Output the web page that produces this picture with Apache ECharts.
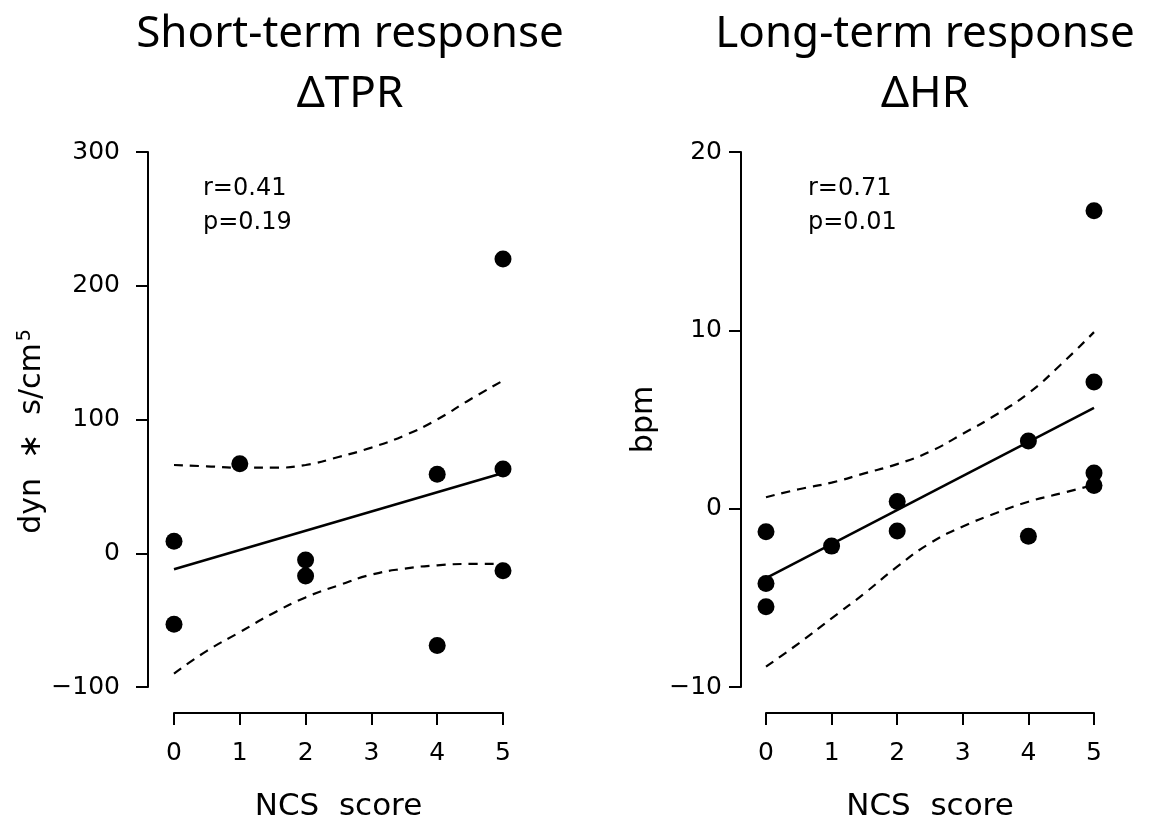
<!DOCTYPE html>
<html>
<head>
<meta charset="utf-8">
<script src="https://cdn.jsdelivr.net/npm/echarts@6/dist/echarts.min.js"></script>
<style>
  html, body { margin: 0; padding: 0; background: #fff; }
  #main { width: 1151px; height: 826px; }
</style>
</head>
<body>
<div id="main"></div>
<script>
// NCS score ticks
var ncsTicks = [0, 1, 2, 3, 4, 5];

// short-term: delta TPR
var tprNcs = [0, 0, 1, 2, 2, 4, 4, 5, 5, 5];
var tprVal = [9, -53, 67, -5, -17, 59, -69, 220, 63, -13];
var tprFit = [[0, -12], [5, 60]];

// long-term: delta HR
var hrNcs = [0, 0, 0, 1, 2, 2, 4, 4, 5, 5, 5, 5];
var hrVal = [-1.3, -4.2, -5.5, -2.1, 0.4, -1.25, 3.8, -1.55, 16.7, 7.1, 2.0, 1.3];
var hrFit = [[0, -3.9], [5, 5.65]];

// confidence band, read at these x positions
var bandX = [0, 0.5, 1, 1.5, 2, 2.5, 3, 3.5, 4, 4.5, 5];
var tprUpper = [66, 65, 64, 64, 66, 72, 79, 88, 100, 115, 129];
var tprLower = [-90, -73, -59, -45, -33, -24, -16, -11.5, -9, -8, -8];
var hrUpper = [0.64, 1.09, 1.46, 1.98, 2.5, 3.2, 4.2, 5.25, 6.47, 8.1, 9.9];
var hrLower = [-8.86, -7.55, -6.15, -4.75, -3.25, -1.94, -1.0, -0.26, 0.39, 0.86, 1.33];

function pairs(xs, ys) {
    return xs.map(function (x, i) { return [x, ys[i]]; });
}

var myChart = echarts.init(document.getElementById('main'));

var axisLine = { show: true, onZero: false, lineStyle: { color: '#000', width: 2 } };
var axisTick = { show: true, length: 12, lineStyle: { color: '#000', width: 2 } };
var tickFont = { color: '#000', fontFamily: 'DejaVu Sans', fontSize: 25,
    formatter: function (v) { return String(v).replace('-', '\u2212'); } };

function xAx(idx) {
    return {
        type: 'value', gridIndex: idx, min: 0, max: 5, interval: 1,
        offset: 26,
        name: 'NCS  score', nameLocation: 'middle', nameGap: 78,
        nameTextStyle: { color: '#000', fontFamily: 'DejaVu Sans', fontSize: 31 },
        axisLine: axisLine, axisTick: axisTick,
        axisLabel: Object.assign({ margin: 28 }, tickFont),
        splitLine: { show: false }
    };
}

function dashed(name, idx, data) {
    return {
        name: name, type: 'line', xAxisIndex: idx, yAxisIndex: idx,
        data: data, smooth: true, showSymbol: false, silent: true,
        lineStyle: { color: '#000', width: 2.2, type: [9, 7] }
    };
}

option = {
    backgroundColor: '#fff',
    animation: false,
    title: [
        { text: 'Short-term response\nΔTPR', left: 350, top: 4, textAlign: 'center', padding: 0,
          textStyle: { color: '#000', fontFamily: 'Noto Sans', fontWeight: 'normal', fontSize: 44, lineHeight: 60 } },
        { text: 'Long-term response\nΔHR', left: 925, top: 4, textAlign: 'center', padding: 0,
          textStyle: { color: '#000', fontFamily: 'Noto Sans', fontWeight: 'normal', fontSize: 44, lineHeight: 60 } }
    ],
    graphic: [
        { type: 'text', left: 203, top: 172, style: { text: 'r=0.41\np=0.19', fill: '#000', font: '24px "DejaVu Sans"', lineHeight: 34 } },
        { type: 'text', left: 808, top: 172, style: { text: 'r=0.71\np=0.01', fill: '#000', font: '24px "DejaVu Sans"', lineHeight: 34 } }
    ],
    grid: [
        { left: 174, top: 152, width: 329, height: 535, containLabel: false, outerBoundsMode: 'none' },
        { left: 766, top: 152, width: 328, height: 535, containLabel: false, outerBoundsMode: 'none' }
    ],
    xAxis: [xAx(0), xAx(1)],
    yAxis: [
        {
            type: 'value', gridIndex: 0, min: -100, max: 300, interval: 100,
            offset: 26,
            name: 'dyn  ∗  s/cm{sup|5}', nameLocation: 'middle', nameGap: 98, nameRotate: 90,
            nameTextStyle: { color: '#000', fontFamily: 'DejaVu Sans', fontSize: 30, padding: [0, 24, 0, 0],
                rich: { sup: { fontFamily: 'DejaVu Sans', fontSize: 19, color: '#000', verticalAlign: 'bottom', padding: [0, 0, 14, 2] } } },
            axisLine: axisLine, axisTick: axisTick,
            axisLabel: Object.assign({ margin: 28 }, tickFont),
            splitLine: { show: false }
        },
        {
            type: 'value', gridIndex: 1, min: -10, max: 20, interval: 10,
            offset: 25,
            name: 'bpm', nameLocation: 'middle', nameGap: 82, nameRotate: 90,
            nameTextStyle: { color: '#000', fontFamily: 'DejaVu Sans', fontSize: 30 },
            axisLine: axisLine, axisTick: axisTick,
            axisLabel: Object.assign({ margin: 19 }, tickFont),
            splitLine: { show: false }
        }
    ],
    series: [
        { name: 'ΔTPR', type: 'scatter', xAxisIndex: 0, yAxisIndex: 0, symbolSize: 17,
          itemStyle: { color: '#000', opacity: 1 }, data: pairs(tprNcs, tprVal), z: 5 },
        { name: 'fit TPR', type: 'line', xAxisIndex: 0, yAxisIndex: 0, data: tprFit, showSymbol: false,
          lineStyle: { color: '#000', width: 2.5 } },
        dashed('upper TPR', 0, pairs(bandX, tprUpper)),
        dashed('lower TPR', 0, pairs(bandX, tprLower)),

        { name: 'ΔHR', type: 'scatter', xAxisIndex: 1, yAxisIndex: 1, symbolSize: 17,
          itemStyle: { color: '#000', opacity: 1 }, data: pairs(hrNcs, hrVal), z: 5 },
        { name: 'fit HR', type: 'line', xAxisIndex: 1, yAxisIndex: 1, data: hrFit, showSymbol: false,
          lineStyle: { color: '#000', width: 2.5 } },
        dashed('upper HR', 1, pairs(bandX, hrUpper)),
        dashed('lower HR', 1, pairs(bandX, hrLower))
    ]
};

myChart.setOption(option);
</script>
</body>
</html>
